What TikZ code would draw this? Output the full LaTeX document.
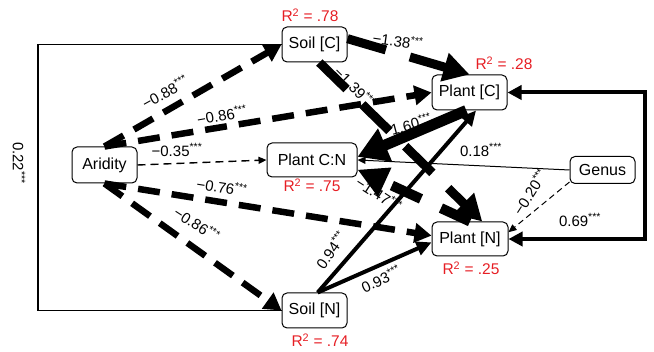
\documentclass[tikz,border=0pt]{standalone}
\usepackage{fontspec}
\setmainfont{Liberation Sans}
\usetikzlibrary{arrows.meta}
\definecolor{rsqred}{RGB}{230,30,36}
\newcommand{\stars}{\textsuperscript{***}}
\newcommand{\rsquare}[1]{R\textsuperscript{2} = #1}

\begin{document}
\begin{tikzpicture}[x=1pt,y=-1pt,
  box/.style={draw, line width=1pt, rounded corners=5pt, fill=white, inner sep=0pt,
    font=\fontsize{16}{18}\selectfont},
  rsq/.style={text=rsqred, inner sep=0pt, font=\fontsize{15.5}{17}\selectfont},
  coef/.style={inner sep=0pt, font=\fontsize{15}{17}\selectfont},
  aridneg/.style={line width=6.5pt, dash pattern=on 22pt off 12pt,
    -{Triangle[length=17pt,width=19pt]}},
  heavyneg/.style={line width=9pt, dash pattern=on 38pt off 22pt,
    -{Triangle[length=26pt,width=28pt]}},
  heavypos/.style={line width=11pt, -{Triangle[length=30pt,width=34pt]}},
  midpos/.style={line width=4pt, -{Triangle[length=15pt,width=14pt]}},
  thinneg/.style={line width=1.4pt, dash pattern=on 8pt off 5pt,
    -{Triangle[length=8pt,width=7pt]}},
  thinpos/.style={line width=1pt, -{Triangle[length=8pt,width=7pt]}},
  corr/.style={line width=1.3pt},
  corrbig/.style={line width=4pt, {Triangle[length=14pt,width=14pt]}-{Triangle[length=14pt,width=14pt]}}
]
\useasboundingbox (0,0) rectangle (654,352);

% variables
\node[box, minimum width=65pt, minimum height=35pt] (soilC) at (314.5,44.5) {Soil [C]};
\node[box, minimum width=75pt, minimum height=35pt] (plantC) at (469.5,92.5) {Plant [C]};
\node[box, minimum width=65pt, minimum height=36pt] (arid) at (104.5,165) {Aridity};
\node[box, minimum width=90pt, minimum height=34pt] (plantCN) at (312,160) {Plant C:N};
\node[box, minimum width=65pt, minimum height=27pt] (genus) at (602.5,170) {Genus};
\node[box, minimum width=76pt, minimum height=34pt] (plantN) at (470,239) {Plant [N]};
\node[box, minimum width=65pt, minimum height=35pt] (soilN) at (314.5,310.5) {Soil [N]};

% explained variance
\node[rsq] (r2soilC) at (310,15) {\rsquare{.78}};
\node[rsq] (r2plantC) at (504,63) {\rsquare{.28}};
\node[rsq] (r2plantCN) at (312,185) {\rsquare{.75}};
\node[rsq] (r2plantN) at (471,268) {\rsquare{.25}};
\node[rsq] (r2soilN) at (320,340) {\rsquare{.74}};

% corner points of the two covariance paths
\coordinate (cornerL) at (38,170);
\coordinate (cornerR) at (645,165);

% paths from aridity
\draw[aridneg] (arid.north) -- (soilC.west);
\draw[aridneg] (arid.north) -- (plantC.west);
\draw[thinneg] (arid.east) -- (plantCN.west);
\draw[aridneg] (arid.south) -- (plantN.175);
\draw[aridneg] (arid.south) -- (soilN.west);

% soil covariance
\draw[corr] (soilC.west) -| (cornerL) |- (soilN.west);

% soil to plant
\draw[heavyneg, dash pattern=on 40pt off 25pt] (soilC.10) -- (plantC.north);
\draw[heavyneg] (soilC.-75) -- (plantN.55);
\draw[midpos] (soilN.80) -- (plantC.-70);
\draw[midpos] (soilN.80) -- (plantN.185);

% plant stoichiometry
\draw[heavypos] (plantC.-100) -- (plantCN.4);
\draw[heavyneg, line width=10pt, dash pattern=on 32pt off 22pt,
  -{Triangle[length=30pt,width=30pt]}] (plantN.north) -- (plantCN.-12);

% genus
\draw[thinpos] (genus.west) -- (plantCN.east);
\draw[thinneg, line width=1pt, dash pattern=on 6pt off 4pt] (genus.200) -- (plantN.10);

% plant covariance
\draw[corrbig] (plantN.east) -| (cornerR) |- (plantC.east);

% coefficients
\node[coef, rotate=29] (c1) at (165,92) {−0.88\stars};
\node[coef, rotate=10] (c2) at (222,115) {−0.86\stars};
\node[coef] (c3) at (177,150) {−0.35\stars};
\node[coef, rotate=-9] (c4) at (222,187) {−0.76\stars};
\node[coef, rotate=-33] (c5) at (197,224) {−0.86\stars};
\node[coef, rotate=-90] (c6) at (19,163) {0.22\stars};
\node[coef, rotate=-8] (c7) at (398,41) {−1.38\stars};
\node[coef, rotate=-45] (c8) at (355,87) {−1.39\stars};
\node[coef, rotate=15] (c9) at (411,124) {1.60\stars};
\node[coef] (c10) at (481,150) {0.18\stars};
\node[coef, rotate=-33] (c11) at (379,194) {−1.47\stars};
\node[coef, rotate=55] (c12) at (331,250) {0.94\stars};
\node[coef, rotate=25] (c13) at (381,279) {0.93\stars};
\node[coef, rotate=57] (c14) at (530,192) {−0.20\stars};
\node[coef] (c15) at (580,220) {0.69\stars};
\end{tikzpicture}
\end{document}
